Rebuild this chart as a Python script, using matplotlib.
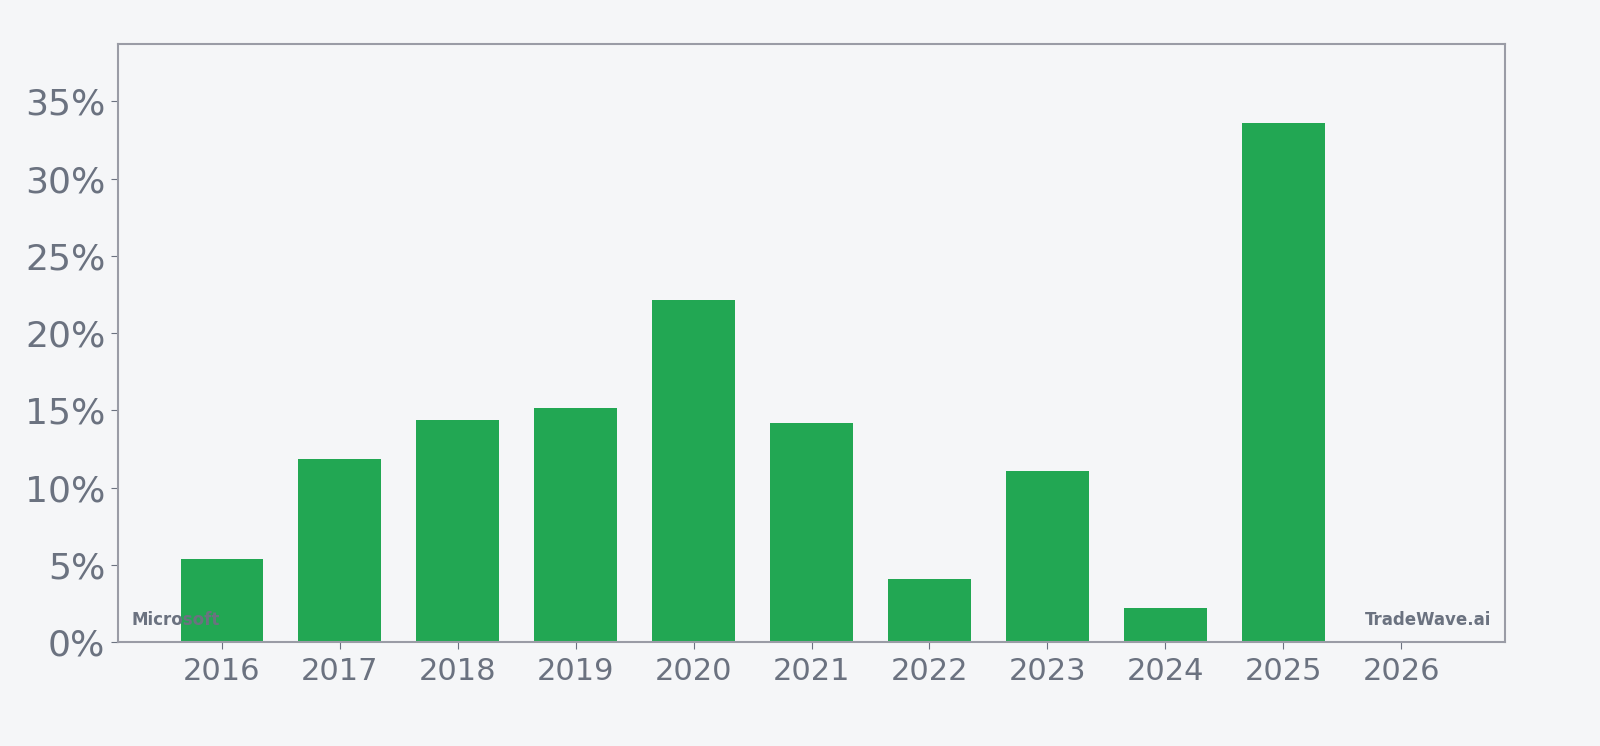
import matplotlib
matplotlib.use("Agg")
import matplotlib.pyplot as plt
from matplotlib.ticker import FuncFormatter

# Yearly values (percent)
years = [2016, 2017, 2018, 2019, 2020, 2021, 2022, 2023, 2024, 2025, 2026]
values = [5.37, 11.84, 14.36, 15.14, 22.12, 14.17, 4.08, 11.06, 2.2, 33.57, 0.0]

bg = "#f5f6f8"
text_color = "#6b7280"
spine_color = "#9a9ca6"
bar_color = "#22a753"

fig = plt.figure(figsize=(16, 7.46), dpi=100, facecolor=bg)
ax = fig.add_axes([118 / 1600, 1 - 642 / 746, (1505 - 118) / 1600, (642 - 44) / 746])
ax.set_facecolor(bg)

ax.bar(years, values, width=0.7, color=bar_color, zorder=2)

ax.set_xlim(years[0] - 0.88, years[-1] + 0.88)
ax.set_ylim(0, max(values) * 1.153)
ax.set_xticks(years)
ax.set_yticks([0, 5, 10, 15, 20, 25, 30, 35])
ax.yaxis.set_major_formatter(FuncFormatter(lambda v, p: f"{v:.0f}%"))

ax.tick_params(axis="x", labelsize=22, colors=text_color, length=5, width=0.8, pad=6)
ax.tick_params(axis="y", labelsize=26, colors=text_color, length=5, width=0.8, pad=4)
for lab in ax.get_xticklabels() + ax.get_yticklabels():
    lab.set_color(text_color)
for s in ax.spines.values():
    s.set_color(spine_color)
    s.set_linewidth(1.5)

ax.text(0.01, 0.022, "Microsoft", transform=ax.transAxes, fontsize=12,
        fontweight="bold", color=text_color, ha="left", va="bottom", zorder=3)
ax.text(0.99, 0.022, "TradeWave.ai", transform=ax.transAxes, fontsize=12,
        fontweight="bold", color=text_color, ha="right", va="bottom", zorder=3)

fig.savefig("out.png", dpi=100, facecolor=bg)
